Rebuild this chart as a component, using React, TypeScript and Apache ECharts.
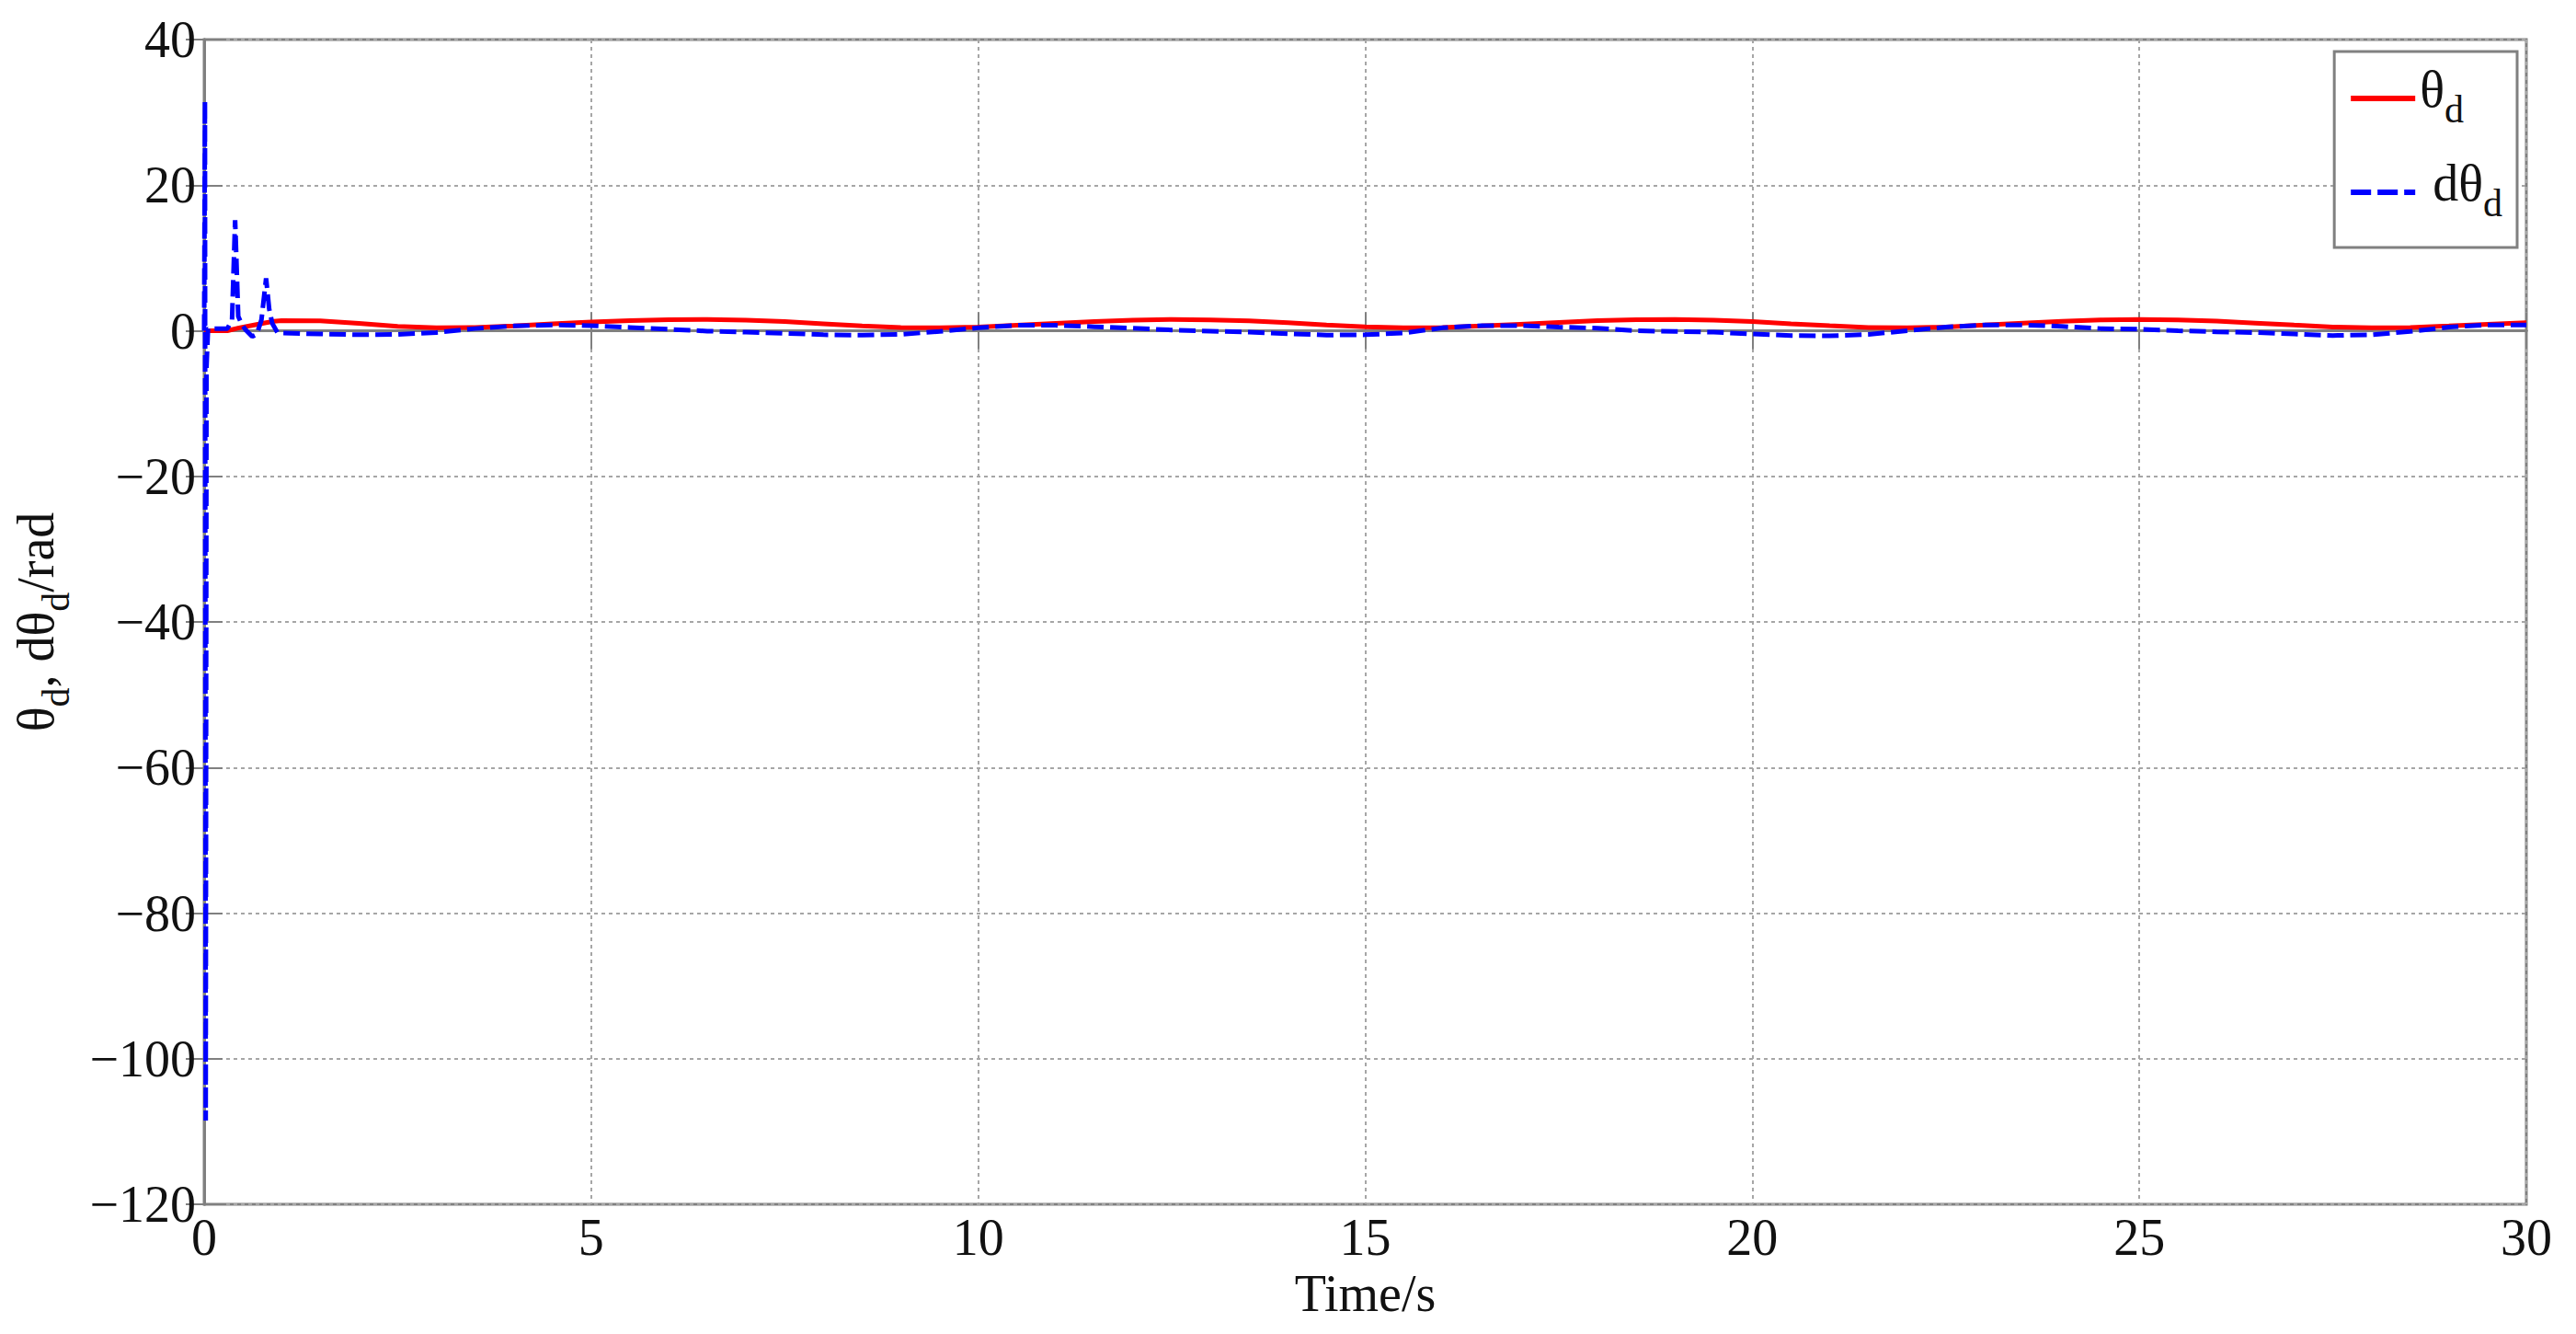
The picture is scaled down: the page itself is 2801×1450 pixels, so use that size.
import React, { useEffect, useRef } from "react";
import * as echarts from "echarts";

const xTicks = [0, 5, 10, 15, 20, 25, 30];
const yTicks = [-120, -100, -80, -60, -40, -20, 0, 20, 40];

const thetaTime = [
  0, 0.3, 0.45, 0.6, 0.8, 0.9, 1.0, 1.5, 2, 2.5, 3, 3.5, 4, 4.5, 5, 5.5, 6, 6.5, 7, 7.5, 8, 8.5, 9, 9.5,
  10, 10.5, 11, 11.5, 12, 12.5, 13, 13.5, 14, 14.5, 15, 15.5, 16, 16.5, 17, 17.5, 18, 18.5, 19, 19.5,
  20, 20.5, 21, 21.5, 22, 22.5, 23, 23.5, 24, 24.5, 25, 25.5, 26, 26.5, 27, 27.5, 28, 28.5, 29, 29.5, 30,
];
const thetaValues = [
  0, 0, 0.4, 0.7, 1.1, 1.3, 1.4, 1.35, 1.0, 0.6, 0.42, 0.45, 0.65, 0.95, 1.2, 1.4, 1.52, 1.55, 1.45, 1.25, 0.95, 0.65, 0.45, 0.4,
  0.5, 0.75, 1.0, 1.25, 1.45, 1.55, 1.5, 1.35, 1.1, 0.8, 0.55, 0.4, 0.45, 0.65, 0.9, 1.15, 1.38, 1.52, 1.55, 1.45,
  1.25, 0.95, 0.68, 0.45, 0.4, 0.52, 0.78, 1.05, 1.3, 1.48, 1.55, 1.5, 1.32, 1.05, 0.78, 0.52, 0.4, 0.45, 0.65, 0.9, 1.1,
];

const dThetaTime = [
  0, 0.01, 0.02, 0.03, 0.05, 0.3, 0.36, 0.4, 0.44, 0.48, 0.53, 0.62, 0.68, 0.74, 0.8, 0.84, 0.88, 0.95, 1.0,
  1.5, 2, 2.5, 3, 3.5, 4, 4.5, 5, 5.5, 6, 6.5, 7, 7.5, 8, 8.5, 9, 9.5,
  10, 10.5, 11, 11.5, 12, 12.5, 13, 13.5, 14, 14.5, 15, 15.5, 16, 16.5, 17, 17.5, 18, 18.5, 19, 19.5,
  20, 20.5, 21, 21.5, 22, 22.5, 23, 23.5, 24, 24.5, 25, 25.5, 26, 26.5, 27, 27.5, 28, 28.5, 29, 29.5, 30,
];
const dThetaValues = [
  0, 31.5, -108.5, -5, 0.3, 0.3, 1.5, 15.2, 2, 1, 0.2, -0.8, -0.5, 1.5, 7.2, 3, 1, -0.3, -0.3,
  -0.45, -0.55, -0.5, -0.25, 0.3, 0.65, 0.8, 0.7, 0.45, 0.2, -0.05, -0.2, -0.35, -0.55, -0.6, -0.5, -0.1,
  0.4, 0.75, 0.75, 0.55, 0.35, 0.1, -0.05, -0.2, -0.4, -0.6, -0.55, -0.3, 0.4, 0.7, 0.7, 0.5, 0.35, 0.0, -0.1, -0.2,
  -0.45, -0.65, -0.7, -0.5, 0.0, 0.5, 0.8, 0.8, 0.6, 0.3, 0.2, 0.0, -0.15, -0.25, -0.45, -0.65, -0.55, -0.1, 0.5, 0.8, 0.8,
];

const FONT = "Liberation Serif";
const AXIS_GRAY = "#808080";
const GRID_GRAY = "#a6a6a6";

const richStyles = {
  m: { fontFamily: FONT, fontSize: 56, color: "#111", lineHeight: 60, padding: [0, 0, 20, 0] },
  s: { fontFamily: FONT, fontSize: 42, color: "#111", lineHeight: 40, padding: [24, 0, 0, 0] },
};

const SOLID_ICON = "path://M0,0H70V6H0Z";
const DASH_ICON = "path://M0,0H22V6H0Z M29,0H51V6H29Z M58,0H70V6H58Z";

export default function App() {
  const ref = useRef<HTMLDivElement>(null);
  useEffect(() => {
    if (!ref.current) return;
    const chart = echarts.init(ref.current, null, { renderer: "svg" });
    const fmtY = (v: number) => (v < 0 ? "\u2212" + Math.abs(v) : String(v));
    chart.setOption({
      animation: false,
      backgroundColor: "#ffffff",
      grid: {
        left: 222,
        right: 54,
        top: 43,
        bottom: 141,
        outerBoundsMode: "none",
        containLabel: false,
        show: true,
        borderColor: AXIS_GRAY,
        borderWidth: 3,
        backgroundColor: "transparent",
      },
      legend: {
        orient: "vertical",
        right: 64,
        top: 56,
        itemWidth: 70,
        itemHeight: 6,
        itemGap: 26,
        padding: [13, 16, 22, 18],
        backgroundColor: "#ffffff",
        borderColor: AXIS_GRAY,
        borderWidth: 3,
        borderRadius: 0,
        data: [
          { name: "θd", icon: SOLID_ICON },
          { name: "dθd", icon: DASH_ICON },
        ],
        formatter: (name: string) => (name === "θd" ? "{m|θ}{s|d}" : "{m| dθ}{s|d}"),
        textStyle: { rich: richStyles, fontFamily: FONT, fontSize: 56 },
      },
      xAxis: [
        {
          type: "value",
          min: 0,
          max: 30,
          interval: 5,
          name: "Time/s",
          nameLocation: "middle",
          nameGap: 53,
          nameTextStyle: { fontFamily: FONT, fontSize: 56, color: "#111" },
          axisLine: { show: true, lineStyle: { color: AXIS_GRAY, width: 3 } },
          axisTick: { show: true, inside: true, length: 20, lineStyle: { color: AXIS_GRAY, width: 2 } },
          axisLabel: {
            fontFamily: FONT,
            fontSize: 56,
            color: "#111",
            margin: 8,
            customValues: xTicks,
          },
          splitLine: { show: true, lineStyle: { color: GRID_GRAY, width: 2, type: [4, 4] } },
        },
        {
          type: "value",
          position: "top",
          min: 0,
          max: 30,
          interval: 5,
          axisLine: { show: true, lineStyle: { color: AXIS_GRAY, width: 3 } },
          axisTick: { show: true, inside: true, length: 20, lineStyle: { color: AXIS_GRAY, width: 2 } },
          axisLabel: { show: false },
          splitLine: { show: false },
        },
      ],
      yAxis: [
        {
          type: "value",
          min: -120,
          max: 40,
          interval: 20,
          name: "{m|θ}{s|d}{m|, dθ}{s|d}{m|/rad}",
          nameLocation: "middle",
          nameRotate: 90,
          nameGap: 133,
          nameTextStyle: { rich: richStyles, fontFamily: FONT, fontSize: 56 },
          axisLine: { show: true, lineStyle: { color: AXIS_GRAY, width: 3 } },
          axisTick: { show: true, inside: true, length: 20, lineStyle: { color: AXIS_GRAY, width: 2 } },
          axisLabel: {
            fontFamily: FONT,
            fontSize: 56,
            color: "#111",
            margin: 9,
            formatter: fmtY,
            customValues: yTicks,
          },
          splitLine: { show: true, lineStyle: { color: GRID_GRAY, width: 2, type: [4, 4] } },
        },
        {
          type: "value",
          position: "right",
          min: -120,
          max: 40,
          interval: 20,
          axisLine: { show: true, lineStyle: { color: AXIS_GRAY, width: 3 } },
          axisTick: { show: true, inside: true, length: 20, lineStyle: { color: AXIS_GRAY, width: 2 } },
          axisLabel: { show: false },
          splitLine: { show: false },
        },
      ],
      series: [
        {
          name: "θd",
          type: "line",
          xAxisIndex: 0,
          yAxisIndex: 0,
          showSymbol: false,
          symbol: "none",
          data: thetaTime.map((t, i) => [t, thetaValues[i]]),
          lineStyle: { color: "#ff0000", width: 5 },
          itemStyle: { color: "#ff0000" },
        },
        {
          name: "dθd",
          type: "line",
          xAxisIndex: 0,
          yAxisIndex: 0,
          showSymbol: false,
          symbol: "none",
          data: dThetaTime.map((t, i) => [t, dThetaValues[i]]),
          lineStyle: { color: "#0000ff", width: 5, type: [18, 7] },
          itemStyle: { color: "#0000ff" },
        },
      ],
    });
    return () => chart.dispose();
  }, []);
  return (
    <div
      ref={ref}
      style={{ position: "fixed", left: 0, top: 0, width: 2801, height: 1450, background: "#fff" }}
    />
  );
}
